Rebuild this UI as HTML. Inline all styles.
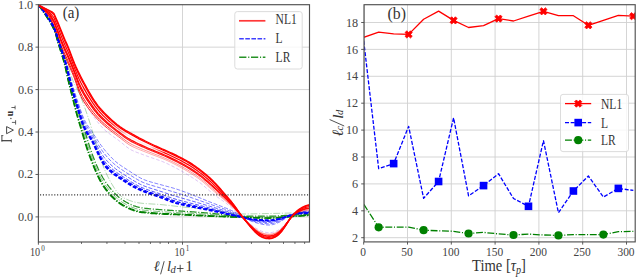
<!DOCTYPE html>
<html><head><meta charset="utf-8"><style>
html,body{margin:0;padding:0;background:#fff;width:637px;height:277px;overflow:hidden;position:relative;font-family:"Liberation Serif",serif}
</style></head><body>
<svg xmlns="http://www.w3.org/2000/svg" width="637" height="277" viewBox="0 0 637 277" style="position:absolute;left:0;top:0">
<defs><clipPath id="cl"><rect x="38" y="4.7" width="271.5" height="237.3"/></clipPath>
<clipPath id="cr"><rect x="364.1" y="4.7" width="271.1" height="237.2"/></clipPath>
<linearGradient id="rf1" gradientUnits="userSpaceOnUse" x1="100" y1="0" x2="135" y2="0"><stop offset="0" stop-color="#ff0000" stop-opacity="0.95"/><stop offset="1" stop-color="#ff0000" stop-opacity="0.35"/></linearGradient>
<linearGradient id="rf2" gradientUnits="userSpaceOnUse" x1="100" y1="0" x2="135" y2="0"><stop offset="0" stop-color="#ff0000" stop-opacity="1"/><stop offset="1" stop-color="#ff0000" stop-opacity="0.45"/></linearGradient>
<linearGradient id="rg1" gradientUnits="userSpaceOnUse" x1="92" y1="0" x2="122" y2="0"><stop offset="0" stop-color="#ff0000" stop-opacity="1"/><stop offset="1" stop-color="#ff0000" stop-opacity="0.9"/></linearGradient>
<linearGradient id="rg2" gradientUnits="userSpaceOnUse" x1="92" y1="0" x2="122" y2="0"><stop offset="0" stop-color="#ff0000" stop-opacity="1"/><stop offset="1" stop-color="#ff0000" stop-opacity="0.95"/></linearGradient>
<linearGradient id="rmid" gradientUnits="userSpaceOnUse" x1="38" y1="0" x2="310" y2="0"><stop offset="0.26" stop-color="#ff0000" stop-opacity="1"/><stop offset="0.33" stop-color="#ff0000" stop-opacity="0.1"/><stop offset="0.41" stop-color="#ff0000" stop-opacity="0.1"/><stop offset="0.47" stop-color="#ff0000" stop-opacity="1"/></linearGradient>
</defs>
<rect width="637" height="277" fill="#fff"/>
<line x1="38" x2="309.5" y1="216.9" y2="216.9" stroke="#d0d0d0" stroke-width="0.9"/>
<line x1="38" x2="309.5" y1="174.46" y2="174.46" stroke="#d0d0d0" stroke-width="0.9"/>
<line x1="38" x2="309.5" y1="132.02" y2="132.02" stroke="#d0d0d0" stroke-width="0.9"/>
<line x1="38" x2="309.5" y1="89.58" y2="89.58" stroke="#d0d0d0" stroke-width="0.9"/>
<line x1="38" x2="309.5" y1="47.14" y2="47.14" stroke="#d0d0d0" stroke-width="0.9"/>
<line x1="182.5" x2="182.5" y1="4.7" y2="242" stroke="#d0d0d0" stroke-width="0.9"/>
<line x1="364.1" x2="635.2" y1="237.7" y2="237.7" stroke="#d0d0d0" stroke-width="0.9"/>
<line x1="364.1" x2="635.2" y1="210.8" y2="210.8" stroke="#d0d0d0" stroke-width="0.9"/>
<line x1="364.1" x2="635.2" y1="183.9" y2="183.9" stroke="#d0d0d0" stroke-width="0.9"/>
<line x1="364.1" x2="635.2" y1="157" y2="157" stroke="#d0d0d0" stroke-width="0.9"/>
<line x1="364.1" x2="635.2" y1="130.1" y2="130.1" stroke="#d0d0d0" stroke-width="0.9"/>
<line x1="364.1" x2="635.2" y1="103.2" y2="103.2" stroke="#d0d0d0" stroke-width="0.9"/>
<line x1="364.1" x2="635.2" y1="76.3" y2="76.3" stroke="#d0d0d0" stroke-width="0.9"/>
<line x1="364.1" x2="635.2" y1="49.4" y2="49.4" stroke="#d0d0d0" stroke-width="0.9"/>
<line x1="364.1" x2="635.2" y1="22.5" y2="22.5" stroke="#d0d0d0" stroke-width="0.9"/>
<line x1="363.7" x2="363.7" y1="4.7" y2="241.9" stroke="#d0d0d0" stroke-width="0.9"/>
<line x1="407.5" x2="407.5" y1="4.7" y2="241.9" stroke="#d0d0d0" stroke-width="0.9"/>
<line x1="451.3" x2="451.3" y1="4.7" y2="241.9" stroke="#d0d0d0" stroke-width="0.9"/>
<line x1="495.1" x2="495.1" y1="4.7" y2="241.9" stroke="#d0d0d0" stroke-width="0.9"/>
<line x1="538.9" x2="538.9" y1="4.7" y2="241.9" stroke="#d0d0d0" stroke-width="0.9"/>
<line x1="582.7" x2="582.7" y1="4.7" y2="241.9" stroke="#d0d0d0" stroke-width="0.9"/>
<line x1="626.5" x2="626.5" y1="4.7" y2="241.9" stroke="#d0d0d0" stroke-width="0.9"/>
<g clip-path="url(#cl)" fill="none" stroke-linejoin="round">
<path d="M38 4.7L40 6.59L42 8.56L44 10.6L46 12.66L48 14.87L50 17.84L52 22.46L54 27.29L56 32.79L58 38.28L60 44.36L60.5 45.83L62.07 49.81L63.64 53.41L65.21 56.79L66.78 60.1L68.35 63.53L69.92 67.1L71.48 70.7L73.05 74.41L74.62 78.38L76.19 82.83L77.76 87.57L79.33 91.98L80.9 95.67L82.47 98.72L84.04 101.37L85.61 103.99L87.18 106.77L88.75 109.4L90.31 111.89L91.88 114.25L93.45 116.5L95.02 118.64L96.59 120.69L98.16 122.67L99.73 124.56L101.3 126.36L102.87 128.08L104.44 129.73L106.01 131.11L107.58 132.33L109.14 133.53L110.71 134.7L112.28 135.85L113.85 136.97L115.42 138.08L116.99 139.2L118.56 140.35L120.13 141.55L121.7 142.81L123.27 144.11L124.84 145.43L126.41 146.7L127.97 147.89L129.54 148.94L131.11 149.86L132.68 150.65L134.25 151.34L135.82 151.97L137.39 152.57L138.96 153.15L140.53 153.73L142.1 154.31L143.67 154.89L145.24 155.46L146.81 156.02L148.37 156.59L149.94 157.14L151.51 157.7L153.08 158.24L154.65 158.79L156.22 159.33L157.79 159.87L159.36 160.43L160.93 161.01L162.5 161.62L164.07 162.26L165.64 162.94L167.2 163.64L168.77 164.38L170.34 165.14L171.91 165.92L173.48 166.72L175.05 167.54L176.62 168.38L178.19 169.23L179.76 170.1L181.33 170.98L182.9 171.87L184.47 172.79L186.03 173.73L187.6 174.68L189.17 175.66L190.74 176.64L192.31 177.64L193.88 178.65L195.45 179.67L197.02 180.71L198.59 181.8L200.16 182.94L201.73 184.16L203.3 185.45L204.86 186.8L206.43 188.16L208 189.52L209.57 190.86L211.14 192.17L212.71 193.45L214.28 194.69L215.85 195.9L217.42 197.06L218.99 198.19L220.56 199.29L222.13 200.37L223.69 201.48L225.26 202.62L226.83 203.82L228.4 205.09L229.97 206.4L231.54 207.74L233.11 209.06L234.68 210.38L236.25 211.67L237.82 212.97L239.39 214.3L240.96 215.69L242.53 217.15L244.09 218.65L245.66 220.12L247.23 221.52L248.8 222.85L250.37 224.11L251.94 225.33L253.51 226.5L255.08 227.61L256.65 228.65L258.22 229.59L259.79 230.41L261.36 231.11L262.92 231.67L264.49 232.1L266.06 232.41L267.63 232.61L269.2 232.68L270.77 232.61L272.34 232.39L273.91 232.03L275.48 231.51L277.05 230.82L278.62 229.91L280.19 228.8L281.75 227.5L283.32 226L284.89 224.32L286.46 222.51L288.03 220.69L289.6 219.01L291.17 217.57L292.74 216.39L294.31 215.45L295.88 214.68L297.45 214.08L299.02 213.62L300.58 213.29L302.15 213.06L303.72 212.89L305.29 212.77L306.86 212.7L308.43 212.66L310 212.65" stroke="#b070e0" stroke-opacity="0.5" stroke-width="0.8" stroke-dasharray="3.5 2"/>
<path d="M38 4.7L40 6.62L42 8.62L44 10.69L46 12.77L48 15.02L50 18.05L52 22.78L54 27.71L56 33.24L58 38.76L60 44.87L60.5 46.34L62.07 50.33L63.64 53.92L65.21 57.28L66.78 60.6L68.35 64.02L69.92 67.58L71.48 71.16L73.05 74.85L74.62 78.83L76.19 83.3L77.76 88.09L79.33 92.53L80.9 96.24L82.47 99.29L84.04 101.93L85.61 104.34L87.18 106.61L88.75 108.77L90.31 110.82L91.88 112.77L93.45 114.65L95.02 116.46L96.59 118.19L98.16 119.84L99.73 121.43L101.3 122.93L102.87 124.37L104.44 125.75L106.01 127.08L107.58 128.37L109.14 129.64L110.71 130.88L112.28 132.09L113.85 133.28L115.42 134.45L116.99 135.61L118.56 136.78L120.13 137.97L121.7 139.19L123.27 140.42L124.84 141.64L126.41 142.83L127.97 143.94L129.54 144.95L131.11 145.85L132.68 146.66L134.25 147.4L135.82 148.09L137.39 148.76L138.96 149.41L140.53 150.05L142.1 150.69L143.67 151.32L145.24 151.94L146.81 152.56L148.37 153.17L149.94 153.78L151.51 154.38L153.08 154.97L154.65 155.55L156.22 156.14L157.79 156.72L159.36 157.32L160.93 157.93L162.5 158.56L164.07 159.21L165.64 159.89L167.2 160.59L168.77 161.32L170.34 162.06L171.91 162.83L173.48 163.61L175.05 164.42L176.62 165.24L178.19 166.07L179.76 166.92L181.33 167.78L182.9 168.66L184.47 169.56L186.03 170.48L187.6 171.42L189.17 172.38L190.74 173.36L192.31 174.36L193.88 175.38L195.45 176.42L197.02 177.48L198.59 178.59L200.16 179.74L201.73 180.96L203.3 182.24L204.86 183.57L206.43 184.92L208 186.28L209.57 187.64L211.14 188.99L212.71 190.32L214.28 191.65L215.85 192.95L217.42 194.24L218.99 195.52L220.56 196.78L222.13 198.05L223.69 199.34L225.26 200.65L226.83 201.99L228.4 203.38L229.97 204.82L231.54 206.29L233.11 207.79L234.68 209.3L236.25 210.82L237.82 212.35L239.39 213.9L240.96 215.49L242.53 217.11L244.09 218.73L245.66 220.33L247.23 221.86L248.8 223.33L250.37 224.74L251.94 226.11L253.51 227.43L255.08 228.68L256.65 229.83L258.22 230.87L259.79 231.77L261.36 232.53L262.92 233.13L264.49 233.58L266.06 233.9L267.63 234.09L269.2 234.15L270.77 234.06L272.34 233.82L273.91 233.41L275.48 232.83L277.05 232.06L278.62 231.07L280.19 229.85L281.75 228.42L283.32 226.78L284.89 224.96L286.46 222.99L288.03 221.01L289.6 219.14L291.17 217.51L292.74 216.13L294.31 214.98L295.88 214.02L297.45 213.23L299.02 212.59L300.58 212.08L302.15 211.68L303.72 211.36L305.29 211.1L306.86 210.91L308.43 210.79L310 210.72" stroke="url(#rf1)" stroke-width="0.95"/>
<path d="M38 4.7L40 6.48L42 8.34L44 10.25L46 12.19L48 14.25L50 16.99L52 21.19L54 25.63L56 31.01L58 36.39L60 42.33L60.5 43.77L62.07 47.75L63.64 51.38L65.21 54.8L66.78 58.13L68.35 61.57L69.92 65.19L71.48 68.86L73.05 72.63L74.62 76.6L76.19 80.95L77.76 85.52L79.33 89.78L80.9 93.39L82.47 96.44L84.04 99.12L85.61 101.61L87.18 103.96L88.75 106.21L90.31 108.36L91.88 110.41L93.45 112.38L95.02 114.28L96.59 116.08L98.16 117.8L99.73 119.43L101.3 120.98L102.87 122.46L104.44 123.88L106.01 125.24L107.58 126.57L109.14 127.87L110.71 129.14L112.28 130.38L113.85 131.6L115.42 132.79L116.99 133.97L118.56 135.15L120.13 136.34L121.7 137.54L123.27 138.74L124.84 139.92L126.41 141.07L127.97 142.14L129.54 143.13L131.11 144.03L132.68 144.85L134.25 145.61L135.82 146.33L137.39 147.02L138.96 147.7L140.53 148.38L142.1 149.04L143.67 149.7L145.24 150.34L146.81 150.98L148.37 151.62L149.94 152.24L151.51 152.87L153.08 153.48L154.65 154.08L156.22 154.69L157.79 155.29L159.36 155.9L160.93 156.53L162.5 157.16L164.07 157.82L165.64 158.5L167.2 159.2L168.77 159.92L170.34 160.67L171.91 161.43L173.48 162.2L175.05 163L176.62 163.81L178.19 164.63L179.76 165.47L181.33 166.33L182.9 167.2L184.47 168.09L186.03 169L187.6 169.93L189.17 170.89L190.74 171.87L192.31 172.87L193.88 173.9L195.45 174.94L197.02 176.02L198.59 177.13L200.16 178.29L201.73 179.5L203.3 180.78L204.86 182.1L206.43 183.45L208 184.81L209.57 186.17L211.14 187.54L212.71 188.9L214.28 190.26L215.85 191.61L217.42 192.96L218.99 194.3L220.56 195.65L222.13 197L223.69 198.36L225.26 199.75L226.83 201.16L228.4 202.61L229.97 204.1L231.54 205.63L233.11 207.21L234.68 208.81L236.25 210.44L237.82 212.07L239.39 213.72L240.96 215.4L242.53 217.09L244.09 218.77L245.66 220.43L247.23 222.02L248.8 223.55L250.37 225.03L251.94 226.46L253.51 227.85L255.08 229.16L256.65 230.37L258.22 231.45L259.79 232.39L261.36 233.18L262.92 233.79L264.49 234.25L266.06 234.57L267.63 234.77L269.2 234.82L270.77 234.73L272.34 234.46L273.91 234.04L275.48 233.43L277.05 232.63L278.62 231.59L280.19 230.32L281.75 228.83L283.32 227.14L284.89 225.25L286.46 223.21L288.03 221.15L289.6 219.2L291.17 217.48L292.74 216.01L294.31 214.77L295.88 213.72L297.45 212.84L299.02 212.12L300.58 211.53L302.15 211.06L303.72 210.66L305.29 210.35L306.86 210.1L308.43 209.94L310 209.84" stroke="url(#rf2)" stroke-width="0.95"/>
<path d="M38 4.7L40 6.74L42 9.02L44 11.53L46 14.22L48 17.07L50 20.02L52 23.19L54 26.81L56 31.25L58 37.46L60 43.6L60.5 45.07L62.07 49.68L63.64 54.33L65.21 59.15L66.78 64.27L68.35 69.94L69.92 75.93L71.48 81.65L73.05 87.03L74.62 92.14L76.19 96.97L77.76 101.58L79.33 106.2L80.9 110.88L82.47 115.31L84.04 119.09L85.61 122.17L87.18 124.76L88.75 127.12L90.31 129.38L91.88 131.66L93.45 134L95.02 136.38L96.59 138.75L98.16 141.1L99.73 143.39L101.3 145.59L102.87 147.69L104.44 149.69L106.01 151.59L107.58 153.41L109.14 155.16L110.71 156.83L112.28 158.43L113.85 159.94L115.42 161.36L116.99 162.68L118.56 163.9L120.13 165.06L121.7 166.15L123.27 167.21L124.84 168.23L126.41 169.23L127.97 170.23L129.54 171.23L131.11 172.24L132.68 173.26L134.25 174.28L135.82 175.28L137.39 176.25L138.96 177.18L140.53 178.03L142.1 178.81L143.67 179.51L145.24 180.14L146.81 180.7L148.37 181.22L149.94 181.71L151.51 182.17L153.08 182.61L154.65 183.04L156.22 183.47L157.79 183.89L159.36 184.32L160.93 184.75L162.5 185.18L164.07 185.6L165.64 186.02L167.2 186.43L168.77 186.85L170.34 187.27L171.91 187.71L173.48 188.17L175.05 188.64L176.62 189.14L178.19 189.65L179.76 190.18L181.33 190.72L182.9 191.28L184.47 191.85L186.03 192.43L187.6 193.02L189.17 193.62L190.74 194.23L192.31 194.84L193.88 195.46L195.45 196.09L197.02 196.72L198.59 197.36L200.16 198L201.73 198.64L203.3 199.28L204.86 199.92L206.43 200.55L208 201.19L209.57 201.82L211.14 202.44L212.71 203.05L214.28 203.65L215.85 204.24L217.42 204.83L218.99 205.42L220.56 206.01L222.13 206.6L223.69 207.21L225.26 207.83L226.83 208.46L228.4 209.12L229.97 209.79L231.54 210.5L233.11 211.24L234.68 212.02L236.25 212.85L237.82 213.74L239.39 214.71L240.96 215.71L242.53 216.7L244.09 217.63L245.66 218.51L247.23 219.32L248.8 220.08L250.37 220.78L251.94 221.41L253.51 221.97L255.08 222.46L256.65 222.92L258.22 223.34L259.79 223.73L261.36 224.09L262.92 224.41L264.49 224.68L266.06 224.89L267.63 225.01L269.2 225.03L270.77 224.92L272.34 224.67L273.91 224.28L275.48 223.78L277.05 223.19L278.62 222.51L280.19 221.73L281.75 220.83L283.32 219.81L284.89 218.71L286.46 217.61L288.03 216.59L289.6 215.69L291.17 214.91L292.74 214.23L294.31 213.63L295.88 213.11L297.45 212.65L299.02 212.28L300.58 211.96L302.15 211.7L303.72 211.49L305.29 211.31L306.86 211.17L308.43 211.08L310 211.03" stroke="#0000ff" stroke-opacity="0.55" stroke-width="0.9" stroke-dasharray="4 1.7"/>
<path d="M38 4.7L40 6.74L42 9.05L44 11.58L46 14.3L48 17.18L50 20.18L52 23.4L54 27.1L56 31.69L58 38.1L60 44.24L60.5 45.72L62.07 50.32L63.64 55L65.21 59.91L66.78 65.24L68.35 71.21L69.92 77.35L71.48 83.15L73.05 88.6L74.62 93.77L76.19 98.68L77.76 103.45L79.33 108.23L80.9 113L82.47 117.48L84.04 121.32L85.61 124.45L87.18 127.05L88.75 129.41L90.31 131.69L91.88 134.06L93.45 136.58L95.02 139.2L96.59 141.85L98.16 144.47L99.73 147.01L101.3 149.41L102.87 151.67L104.44 153.75L106.01 155.67L107.58 157.45L109.14 159.12L110.71 160.71L112.28 162.23L113.85 163.67L115.42 165.02L116.99 166.27L118.56 167.44L120.13 168.54L121.7 169.61L123.27 170.65L124.84 171.68L126.41 172.69L127.97 173.69L129.54 174.69L131.11 175.68L132.68 176.67L134.25 177.65L135.82 178.6L137.39 179.53L138.96 180.4L140.53 181.22L142.1 181.97L143.67 182.65L145.24 183.27L146.81 183.83L148.37 184.36L149.94 184.86L151.51 185.34L153.08 185.81L154.65 186.26L156.22 186.72L157.79 187.18L159.36 187.64L160.93 188.11L162.5 188.58L164.07 189.05L165.64 189.52L167.2 189.99L168.77 190.46L170.34 190.93L171.91 191.4L173.48 191.87L175.05 192.35L176.62 192.83L178.19 193.32L179.76 193.81L181.33 194.31L182.9 194.82L184.47 195.33L186.03 195.85L187.6 196.37L189.17 196.9L190.74 197.43L192.31 197.97L193.88 198.51L195.45 199.05L197.02 199.6L198.59 200.15L200.16 200.7L201.73 201.25L203.3 201.8L204.86 202.36L206.43 202.91L208 203.46L209.57 204.01L211.14 204.56L212.71 205.1L214.28 205.63L215.85 206.16L217.42 206.69L218.99 207.21L220.56 207.74L222.13 208.27L223.69 208.81L225.26 209.35L226.83 209.91L228.4 210.49L229.97 211.08L231.54 211.69L233.11 212.32L234.68 212.98L236.25 213.68L237.82 214.42L239.39 215.22L240.96 216.04L242.53 216.85L244.09 217.63L245.66 218.36L247.23 219.06L248.8 219.7L250.37 220.3L251.94 220.83L253.51 221.3L255.08 221.71L256.65 222.08L258.22 222.42L259.79 222.73L261.36 223.02L262.92 223.27L264.49 223.49L266.06 223.65L267.63 223.75L269.2 223.76L270.77 223.66L272.34 223.44L273.91 223.11L275.48 222.67L277.05 222.15L278.62 221.56L280.19 220.89L281.75 220.11L283.32 219.23L284.89 218.28L286.46 217.33L288.03 216.44L289.6 215.66L291.17 214.97L292.74 214.36L294.31 213.83L295.88 213.36L297.45 212.95L299.02 212.62L300.58 212.35L302.15 212.13L303.72 211.95L305.29 211.8L306.86 211.69L308.43 211.62L310 211.58" stroke="#0000ff" stroke-opacity="0.6" stroke-width="0.9" stroke-dasharray="4 1.7"/>
<path d="M38 4.7L40 6.75L42 9.07L44 11.62L46 14.38L48 17.3L50 20.34L52 23.61L54 27.39L56 32.14L58 38.73L60 44.88L60.5 46.36L62.07 50.97L63.64 55.67L65.21 60.67L66.78 66.21L68.35 72.48L69.92 78.76L71.48 84.64L73.05 90.18L74.62 95.4L76.19 100.39L77.76 105.31L79.33 110.25L80.9 115.12L82.47 119.65L84.04 123.54L85.61 126.72L87.18 129.34L88.75 131.7L90.31 134L91.88 136.46L93.45 139.15L95.02 142.02L96.59 144.95L98.16 147.85L99.73 150.63L101.3 153.24L102.87 155.65L104.44 157.82L106.01 159.74L107.58 161.48L109.14 163.08L110.71 164.59L112.28 166.03L113.85 167.39L115.42 168.67L116.99 169.86L118.56 170.97L120.13 172.03L121.7 173.07L123.27 174.1L124.84 175.13L126.41 176.15L127.97 177.16L129.54 178.15L131.11 179.12L132.68 180.08L134.25 181.02L135.82 181.93L137.39 182.8L138.96 183.63L140.53 184.41L142.1 185.12L143.67 185.78L145.24 186.39L146.81 186.96L148.37 187.5L149.94 188.02L151.51 188.52L153.08 189L154.65 189.49L156.22 189.97L157.79 190.46L159.36 190.96L160.93 191.47L162.5 191.99L164.07 192.51L165.64 193.03L167.2 193.56L168.77 194.08L170.34 194.59L171.91 195.09L173.48 195.58L175.05 196.05L176.62 196.52L178.19 196.98L179.76 197.44L181.33 197.9L182.9 198.36L184.47 198.82L186.03 199.27L187.6 199.73L189.17 200.18L190.74 200.64L192.31 201.1L193.88 201.55L195.45 202.01L197.02 202.47L198.59 202.93L200.16 203.4L201.73 203.86L203.3 204.33L204.86 204.79L206.43 205.26L208 205.74L209.57 206.21L211.14 206.68L212.71 207.15L214.28 207.62L215.85 208.08L217.42 208.55L218.99 209.01L220.56 209.47L222.13 209.94L223.69 210.41L225.26 210.88L226.83 211.37L228.4 211.86L229.97 212.36L231.54 212.87L233.11 213.4L234.68 213.94L236.25 214.51L237.82 215.1L239.39 215.73L240.96 216.37L242.53 217.01L244.09 217.63L245.66 218.22L247.23 218.79L248.8 219.32L250.37 219.81L251.94 220.25L253.51 220.63L255.08 220.96L256.65 221.24L258.22 221.5L259.79 221.73L261.36 221.95L262.92 222.14L264.49 222.3L266.06 222.42L267.63 222.48L269.2 222.48L270.77 222.4L272.34 222.21L273.91 221.93L275.48 221.56L277.05 221.12L278.62 220.62L280.19 220.05L281.75 219.4L283.32 218.66L284.89 217.86L286.46 217.05L288.03 216.3L289.6 215.62L291.17 215.03L292.74 214.5L294.31 214.02L295.88 213.61L297.45 213.25L299.02 212.97L300.58 212.74L302.15 212.56L303.72 212.41L305.29 212.3L306.86 212.21L308.43 212.15L310 212.12" stroke="#0000ff" stroke-opacity="0.7" stroke-width="0.9" stroke-dasharray="4 1.7"/>
<path d="M38 4.7L40 6.75L42 9.08L44 11.66L46 14.44L48 17.39L50 20.46L52 23.77L54 27.63L56 32.49L58 39.24L60 45.4L60.5 46.88L62.07 51.48L63.64 56.21L65.21 61.27L66.78 66.98L68.35 73.49L69.92 79.89L71.48 85.84L73.05 91.44L74.62 96.71L76.19 101.76L77.76 106.8L79.33 111.87L80.9 116.82L82.47 121.39L84.04 125.33L85.61 128.54L87.18 131.17L88.75 133.54L90.31 135.85L91.88 138.38L93.45 141.21L95.02 144.27L96.59 147.43L98.16 150.54L99.73 153.52L101.3 156.31L102.87 158.83L104.44 161.07L106.01 163.01L107.58 164.71L109.14 166.25L110.71 167.7L112.28 169.07L113.85 170.37L115.42 171.59L116.99 172.73L118.56 173.8L120.13 174.83L121.7 175.84L123.27 176.86L124.84 177.89L126.41 178.91L127.97 179.93L129.54 180.91L131.11 181.87L132.68 182.81L134.25 183.71L135.82 184.58L137.39 185.42L138.96 186.21L140.53 186.95L142.1 187.65L143.67 188.29L145.24 188.9L146.81 189.47L148.37 190.01L149.94 190.54L151.51 191.05L153.08 191.56L154.65 192.06L156.22 192.57L157.79 193.08L159.36 193.61L160.93 194.15L162.5 194.71L164.07 195.27L165.64 195.84L167.2 196.41L168.77 196.97L170.34 197.51L171.91 198.04L173.48 198.54L175.05 199.02L176.62 199.48L178.19 199.92L179.76 200.35L181.33 200.77L182.9 201.19L184.47 201.6L186.03 202.01L187.6 202.41L189.17 202.81L190.74 203.21L192.31 203.6L193.88 203.99L195.45 204.38L197.02 204.77L198.59 205.16L200.16 205.55L201.73 205.95L203.3 206.35L204.86 206.75L206.43 207.15L208 207.56L209.57 207.97L211.14 208.38L212.71 208.79L214.28 209.21L215.85 209.62L217.42 210.03L218.99 210.44L220.56 210.86L222.13 211.27L223.69 211.69L225.26 212.11L226.83 212.53L228.4 212.95L229.97 213.39L231.54 213.82L233.11 214.26L234.68 214.71L236.25 215.17L237.82 215.65L239.39 216.14L240.96 216.63L242.53 217.13L244.09 217.63L245.66 218.11L247.23 218.58L248.8 219.02L250.37 219.43L251.94 219.79L253.51 220.1L255.08 220.36L256.65 220.57L258.22 220.77L259.79 220.94L261.36 221.09L262.92 221.23L264.49 221.34L266.06 221.43L267.63 221.47L269.2 221.47L270.77 221.39L272.34 221.23L273.91 220.98L275.48 220.67L277.05 220.3L278.62 219.87L280.19 219.39L281.75 218.83L283.32 218.2L284.89 217.52L286.46 216.83L288.03 216.18L289.6 215.6L291.17 215.07L292.74 214.6L294.31 214.18L295.88 213.81L297.45 213.49L299.02 213.24L300.58 213.05L302.15 212.9L303.72 212.79L305.29 212.69L306.86 212.63L308.43 212.58L310 212.56" stroke="#0000ff" stroke-opacity="0.8" stroke-width="0.9" stroke-dasharray="4 1.7"/>
<path d="M38 4.7L40 6.73L42 9L44 11.5L46 14.17L48 17L50 19.93L52 23.12L54 26.85L56 31.7L58 38L60 43.61L60.5 44.98L62.07 49.21L63.64 53.44L65.21 57.76L66.78 62.31L68.35 67.17L69.92 72.06L71.48 76.66L73.05 80.71L74.62 84.21L76.19 87.4L77.76 90.53L79.33 93.85L80.9 97.47L82.47 101.39L84.04 105.58L85.61 109.98L87.18 114.57L88.75 119.31L90.31 124.22L91.88 129.35L93.45 134.72L95.02 140.3L96.59 145.93L98.16 151.39L99.73 156.47L101.3 161.11L102.87 165.34L104.44 169.22L106.01 172.81L107.58 176.13L109.14 179.2L110.71 182.07L112.28 184.78L113.85 187.33L115.42 189.71L116.99 191.87L118.56 193.74L120.13 195.31L121.7 196.57L123.27 197.59L124.84 198.45L126.41 199.2L127.97 199.88L129.54 200.49L131.11 201.04L132.68 201.53L134.25 201.96L135.82 202.33L137.39 202.64L138.96 202.9L140.53 203.11L142.1 203.29L143.67 203.44L145.24 203.57L146.81 203.68L148.37 203.78L149.94 203.87L151.51 203.96L153.08 204.05L154.65 204.14L156.22 204.24L157.79 204.35L159.36 204.47L160.93 204.6L162.5 204.74L164.07 204.9L165.64 205.07L167.2 205.24L168.77 205.42L170.34 205.6L171.91 205.79L173.48 205.97L175.05 206.15L176.62 206.33L178.19 206.5L179.76 206.67L181.33 206.82L182.9 206.98L184.47 207.13L186.03 207.27L187.6 207.41L189.17 207.55L190.74 207.68L192.31 207.82L193.88 207.95L195.45 208.09L197.02 208.23L198.59 208.37L200.16 208.51L201.73 208.65L203.3 208.8L204.86 208.96L206.43 209.12L208 209.29L209.57 209.47L211.14 209.67L212.71 209.89L214.28 210.14L215.85 210.41L217.42 210.69L218.99 210.99L220.56 211.29L222.13 211.61L223.69 211.92L225.26 212.22L226.83 212.51L228.4 212.79L229.97 213.05L231.54 213.29L233.11 213.49L234.68 213.67L236.25 213.8L237.82 213.89L239.39 213.95L240.96 213.98L242.53 213.98L244.09 213.98L245.66 213.97L247.23 213.95L248.8 213.93L250.37 213.91L251.94 213.88L253.51 213.85L255.08 213.82L256.65 213.79L258.22 213.76L259.79 213.72L261.36 213.69L262.92 213.65L264.49 213.62L266.06 213.58L267.63 213.55L269.2 213.52L270.77 213.48L272.34 213.45L273.91 213.42L275.48 213.39L277.05 213.35L278.62 213.32L280.19 213.28L281.75 213.24L283.32 213.21L284.89 213.17L286.46 213.13L288.03 213.09L289.6 213.05L291.17 213.01L292.74 212.97L294.31 212.93L295.88 212.89L297.45 212.85L299.02 212.8L300.58 212.76L302.15 212.72L303.72 212.67L305.29 212.63L306.86 212.58L308.43 212.55L310 212.52" stroke="#008000" stroke-opacity="0.35" stroke-width="0.9" stroke-dasharray="6.9 1.7 1.1 1.7"/>
<path d="M38 4.7L40 6.95L42 9.43L44 12.12L46 14.99L48 18L50 21.04L52 24.3L54 28.19L56 33.58L58 40.66L60 47.08L60.5 48.66L62.07 53.65L63.64 58.79L65.21 64.27L66.78 70.26L68.35 76.39L69.92 82.38L71.48 88.26L73.05 93.92L74.62 99.34L76.19 104.47L77.76 109.31L79.33 114.01L80.9 118.68L82.47 123.48L84.04 128.5L85.61 133.69L87.18 138.87L88.75 143.91L90.31 148.68L91.88 153.18L93.45 157.44L95.02 161.49L96.59 165.3L98.16 168.84L99.73 172.09L101.3 175.05L102.87 177.77L104.44 180.27L106.01 182.6L107.58 184.78L109.14 186.82L110.71 188.75L112.28 190.59L113.85 192.34L115.42 193.99L116.99 195.54L118.56 196.95L120.13 198.22L121.7 199.36L123.27 200.39L124.84 201.35L126.41 202.26L127.97 203.11L129.54 203.91L131.11 204.65L132.68 205.33L134.25 205.94L135.82 206.47L137.39 206.93L138.96 207.31L140.53 207.62L142.1 207.88L143.67 208.11L145.24 208.3L146.81 208.48L148.37 208.64L149.94 208.79L151.51 208.93L153.08 209.06L154.65 209.18L156.22 209.3L157.79 209.43L159.36 209.55L160.93 209.67L162.5 209.79L164.07 209.91L165.64 210.02L167.2 210.13L168.77 210.24L170.34 210.35L171.91 210.45L173.48 210.56L175.05 210.66L176.62 210.77L178.19 210.88L179.76 210.98L181.33 211.09L182.9 211.2L184.47 211.31L186.03 211.42L187.6 211.53L189.17 211.64L190.74 211.75L192.31 211.86L193.88 211.97L195.45 212.08L197.02 212.2L198.59 212.31L200.16 212.43L201.73 212.54L203.3 212.66L204.86 212.79L206.43 212.91L208 213.04L209.57 213.18L211.14 213.32L212.71 213.48L214.28 213.65L215.85 213.83L217.42 214.02L218.99 214.23L220.56 214.43L222.13 214.64L223.69 214.84L225.26 215.04L226.83 215.23L228.4 215.42L229.97 215.59L231.54 215.74L233.11 215.87L234.68 215.98L236.25 216.07L237.82 216.13L239.39 216.17L240.96 216.19L242.53 216.2L244.09 216.2L245.66 216.2L247.23 216.2L248.8 216.2L250.37 216.2L251.94 216.2L253.51 216.2L255.08 216.2L256.65 216.2L258.22 216.2L259.79 216.2L261.36 216.2L262.92 216.2L264.49 216.2L266.06 216.2L267.63 216.2L269.2 216.19L270.77 216.17L272.34 216.15L273.91 216.1L275.48 216.05L277.05 215.98L278.62 215.89L280.19 215.81L281.75 215.71L283.32 215.61L284.89 215.51L286.46 215.42L288.03 215.32L289.6 215.23L291.17 215.14L292.74 215.05L294.31 214.96L295.88 214.86L297.45 214.77L299.02 214.68L300.58 214.58L302.15 214.48L303.72 214.38L305.29 214.28L306.86 214.19L308.43 214.11L310 214.05" stroke="#008000" stroke-opacity="0.85" stroke-width="1.3" stroke-dasharray="6.9 1.7 1.1 1.7"/>
<path d="M38 4.7L40 7.05L42 9.63L44 12.41L46 15.36L48 18.45L50 21.56L52 24.86L54 28.82L56 34.33L58 41.58L60 48.01L60.5 49.58L62.07 54.54L63.64 59.74L65.21 65.45L66.78 72.05L68.35 78.64L69.92 84.76L71.48 90.75L73.05 96.71L74.62 102.53L76.19 108.08L77.76 113.31L79.33 118.27L80.9 123.17L82.47 128.19L84.04 133.39L85.61 138.6L87.18 143.64L88.75 148.44L90.31 152.96L91.88 157.24L93.45 161.35L95.02 165.29L96.59 169.02L98.16 172.5L99.73 175.69L101.3 178.59L102.87 181.24L104.44 183.68L106.01 185.94L107.58 188.04L109.14 190L110.71 191.85L112.28 193.59L113.85 195.25L115.42 196.8L116.99 198.25L118.56 199.58L120.13 200.77L121.7 201.85L123.27 202.83L124.84 203.73L126.41 204.59L127.97 205.4L129.54 206.16L131.11 206.86L132.68 207.51L134.25 208.09L135.82 208.6L137.39 209.03L138.96 209.39L140.53 209.69L142.1 209.94L143.67 210.16L145.24 210.35L146.81 210.52L148.37 210.68L149.94 210.82L151.51 210.96L153.08 211.08L154.65 211.2L156.22 211.31L157.79 211.42L159.36 211.53L160.93 211.64L162.5 211.74L164.07 211.84L165.64 211.93L167.2 212.02L168.77 212.11L170.34 212.19L171.91 212.27L173.48 212.36L175.05 212.44L176.62 212.52L178.19 212.61L179.76 212.7L181.33 212.79L182.9 212.88L184.47 212.97L186.03 213.07L187.6 213.16L189.17 213.25L190.74 213.35L192.31 213.44L193.88 213.54L195.45 213.63L197.02 213.73L198.59 213.83L200.16 213.92L201.73 214.02L203.3 214.12L204.86 214.22L206.43 214.32L208 214.42L209.57 214.53L211.14 214.64L212.71 214.75L214.28 214.87L215.85 215L217.42 215.14L218.99 215.27L220.56 215.41L222.13 215.55L223.69 215.69L225.26 215.83L226.83 215.96L228.4 216.08L229.97 216.2L231.54 216.31L233.11 216.41L234.68 216.5L236.25 216.57L237.82 216.62L239.39 216.67L240.96 216.7L242.53 216.73L244.09 216.76L245.66 216.79L247.23 216.82L248.8 216.85L250.37 216.87L251.94 216.9L253.51 216.93L255.08 216.96L256.65 216.98L258.22 217L259.79 217.03L261.36 217.05L262.92 217.06L264.49 217.08L266.06 217.08L267.63 217.09L269.2 217.08L270.77 217.07L272.34 217.03L273.91 216.98L275.48 216.92L277.05 216.83L278.62 216.74L280.19 216.63L281.75 216.52L283.32 216.4L284.89 216.29L286.46 216.17L288.03 216.06L289.6 215.95L291.17 215.85L292.74 215.75L294.31 215.64L295.88 215.54L297.45 215.43L299.02 215.33L300.58 215.22L302.15 215.11L303.72 215L305.29 214.89L306.86 214.79L308.43 214.7L310 214.64" stroke="#008000" stroke-opacity="0.5" stroke-width="1.0" stroke-dasharray="6.9 1.7 1.1 1.7"/>
<path d="M38 4.7L40 7.14L42 9.8L44 12.66L46 15.68L48 18.85L50 22.01L52 25.36L54 29.37L56 35.01L58 42.4L60 48.83L60.5 50.39L62.07 55.33L63.64 60.59L65.21 66.5L66.78 73.64L68.35 80.63L69.92 86.88L71.48 92.97L73.05 99.19L74.62 105.36L76.19 111.29L77.76 116.86L79.33 122.07L80.9 127.15L82.47 132.38L84.04 137.74L85.61 142.97L87.18 147.88L88.75 152.47L90.31 156.76L91.88 160.85L93.45 164.82L95.02 168.66L96.59 172.34L98.16 175.76L99.73 178.89L101.3 181.74L102.87 184.33L104.44 186.71L106.01 188.91L107.58 190.94L109.14 192.84L110.71 194.6L112.28 196.27L113.85 197.83L115.42 199.3L116.99 200.67L118.56 201.91L120.13 203.04L121.7 204.06L123.27 204.99L124.84 205.85L126.41 206.66L127.97 207.43L129.54 208.16L131.11 208.83L132.68 209.45L134.25 210L135.82 210.49L137.39 210.9L138.96 211.25L140.53 211.53L142.1 211.77L143.67 211.98L145.24 212.17L146.81 212.34L148.37 212.49L149.94 212.63L151.51 212.76L153.08 212.88L154.65 213L156.22 213.1L157.79 213.2L159.36 213.3L160.93 213.39L162.5 213.47L164.07 213.55L165.64 213.63L167.2 213.7L168.77 213.76L170.34 213.83L171.91 213.89L173.48 213.95L175.05 214.02L176.62 214.08L178.19 214.15L179.76 214.22L181.33 214.3L182.9 214.37L184.47 214.45L186.03 214.53L187.6 214.61L189.17 214.69L190.74 214.77L192.31 214.85L193.88 214.93L195.45 215.01L197.02 215.09L198.59 215.18L200.16 215.26L201.73 215.34L203.3 215.42L204.86 215.5L206.43 215.58L208 215.65L209.57 215.73L211.14 215.81L212.71 215.88L214.28 215.96L215.85 216.04L217.42 216.12L218.99 216.2L220.56 216.29L222.13 216.37L223.69 216.45L225.26 216.53L226.83 216.6L228.4 216.68L229.97 216.75L231.54 216.82L233.11 216.89L234.68 216.95L236.25 217.01L237.82 217.06L239.39 217.11L240.96 217.16L242.53 217.21L244.09 217.26L245.66 217.32L247.23 217.37L248.8 217.42L250.37 217.47L251.94 217.53L253.51 217.58L255.08 217.63L256.65 217.68L258.22 217.72L259.79 217.76L261.36 217.8L262.92 217.83L264.49 217.85L266.06 217.87L267.63 217.88L269.2 217.88L270.77 217.86L272.34 217.82L273.91 217.77L275.48 217.69L277.05 217.59L278.62 217.48L280.19 217.36L281.75 217.24L283.32 217.1L284.89 216.97L286.46 216.84L288.03 216.72L289.6 216.6L291.17 216.48L292.74 216.37L294.31 216.25L295.88 216.14L297.45 216.02L299.02 215.91L300.58 215.79L302.15 215.67L303.72 215.55L305.29 215.44L306.86 215.33L308.43 215.23L310 215.17" stroke="#008000" stroke-opacity="1" stroke-width="1.3" stroke-dasharray="6.9 1.7 1.1 1.7"/>
<path d="M38 4.7L40 7.17L42 9.87L44 12.75L46 15.81L48 19L50 22.19L52 25.55L54 29.58L56 35.26L58 42.71L60 49.14L60.5 50.69L62.07 55.63L63.64 60.9L65.21 66.9L66.78 74.24L68.35 81.38L69.92 87.67L71.48 93.81L73.05 100.12L74.62 106.42L76.19 112.5L77.76 118.19L79.33 123.49L80.9 128.65L82.47 133.96L84.04 139.37L85.61 144.6L87.18 149.47L88.75 153.99L90.31 158.18L91.88 162.2L93.45 166.12L95.02 169.93L96.59 173.58L98.16 176.98L99.73 180.09L101.3 182.92L102.87 185.49L104.44 187.84L106.01 190.02L107.58 192.03L109.14 193.9L110.71 195.64L112.28 197.27L113.85 198.8L115.42 200.24L116.99 201.57L118.56 202.79L120.13 203.89L121.7 204.89L123.27 205.8L124.84 206.64L126.41 207.44L127.97 208.19L129.54 208.91L131.11 209.57L132.68 210.17L134.25 210.72L135.82 211.19L137.39 211.6L138.96 211.94L140.53 212.22L142.1 212.46L143.67 212.67L145.24 212.85L146.81 213.02L148.37 213.17L149.94 213.31L151.51 213.44L153.08 213.56L154.65 213.67L156.22 213.77L157.79 213.87L159.36 213.96L160.93 214.04L162.5 214.12L164.07 214.19L165.64 214.26L167.2 214.32L168.77 214.38L170.34 214.44L171.91 214.5L173.48 214.55L175.05 214.61L176.62 214.67L178.19 214.73L179.76 214.79L181.33 214.86L182.9 214.93L184.47 215L186.03 215.07L187.6 215.15L189.17 215.22L190.74 215.3L192.31 215.38L193.88 215.45L195.45 215.53L197.02 215.6L198.59 215.68L200.16 215.76L201.73 215.83L203.3 215.9L204.86 215.98L206.43 216.05L208 216.11L209.57 216.18L211.14 216.25L212.71 216.31L214.28 216.37L215.85 216.43L217.42 216.49L218.99 216.55L220.56 216.61L222.13 216.67L223.69 216.73L225.26 216.79L226.83 216.84L228.4 216.9L229.97 216.96L231.54 217.01L233.11 217.07L234.68 217.12L236.25 217.17L237.82 217.23L239.39 217.28L240.96 217.34L242.53 217.39L244.09 217.45L245.66 217.51L247.23 217.57L248.8 217.64L250.37 217.7L251.94 217.76L253.51 217.82L255.08 217.88L256.65 217.94L258.22 217.99L259.79 218.04L261.36 218.08L262.92 218.12L264.49 218.15L266.06 218.17L267.63 218.18L269.2 218.18L270.77 218.16L272.34 218.12L273.91 218.06L275.48 217.98L277.05 217.88L278.62 217.76L280.19 217.64L281.75 217.51L283.32 217.37L284.89 217.23L286.46 217.09L288.03 216.96L289.6 216.84L291.17 216.72L292.74 216.6L294.31 216.48L295.88 216.36L297.45 216.25L299.02 216.13L300.58 216.01L302.15 215.88L303.72 215.76L305.29 215.64L306.86 215.53L308.43 215.43L310 215.36" stroke="#008000" stroke-opacity="1" stroke-width="1.4" stroke-dasharray="6.9 1.7 1.1 1.7"/>
<path d="M38 4.7L40 6.75L42 9.1L44 11.69L46 14.49L48 17.46L50 20.55L52 23.89L54 27.79L56 32.74L58 39.59L60 45.76L60.5 47.24L62.07 51.85L63.64 56.59L65.21 61.7L66.78 67.52L68.35 74.2L69.92 80.68L71.48 86.68L73.05 92.33L74.62 97.62L76.19 102.71L77.76 107.84L79.33 113.01L80.9 118.01L82.47 122.6L84.04 126.57L85.61 129.81L87.18 132.46L88.75 134.82L90.31 137.15L91.88 139.73L93.45 142.65L95.02 145.85L96.59 149.17L98.16 152.43L99.73 155.55L101.3 158.45L102.87 161.06L104.44 163.34L106.01 165.29L107.58 166.97L109.14 168.47L110.71 169.87L112.28 171.2L113.85 172.46L115.42 173.64L116.99 174.74L118.56 175.78L120.13 176.78L121.7 177.78L123.27 178.8L124.84 179.82L126.41 180.85L127.97 181.86L129.54 182.85L131.11 183.8L132.68 184.72L134.25 185.6L135.82 186.44L137.39 187.25L138.96 188.02L140.53 188.74L142.1 189.41L143.67 190.05L145.24 190.65L146.81 191.22L148.37 191.77L149.94 192.31L151.51 192.83L153.08 193.35L154.65 193.87L156.22 194.39L157.79 194.92L159.36 195.47L160.93 196.03L162.5 196.61L164.07 197.21L165.64 197.81L167.2 198.41L168.77 198.99L170.34 199.56L171.91 200.1L173.48 200.61L175.05 201.09L176.62 201.54L178.19 201.97L179.76 202.38L181.33 202.79L182.9 203.17L184.47 203.55L186.03 203.93L187.6 204.29L189.17 204.65L190.74 205L192.31 205.35L193.88 205.7L195.45 206.04L197.02 206.38L198.59 206.72L200.16 207.07L201.73 207.41L203.3 207.76L204.86 208.11L206.43 208.47L208 208.83L209.57 209.2L211.14 209.57L212.71 209.94L214.28 210.32L215.85 210.69L217.42 211.07L218.99 211.45L220.56 211.82L222.13 212.2L223.69 212.58L225.26 212.96L226.83 213.34L228.4 213.72L229.97 214.1L231.54 214.49L233.11 214.87L234.68 215.25L236.25 215.64L237.82 216.03L239.39 216.42L240.96 216.82L242.53 217.22L244.09 217.63L245.66 218.03L247.23 218.43L248.8 218.81L250.37 219.16L251.94 219.47L253.51 219.73L255.08 219.94L256.65 220.11L258.22 220.25L259.79 220.38L261.36 220.49L262.92 220.59L264.49 220.68L266.06 220.74L267.63 220.77L269.2 220.75L270.77 220.68L272.34 220.54L273.91 220.32L275.48 220.05L277.05 219.72L278.62 219.34L280.19 218.92L281.75 218.43L283.32 217.88L284.89 217.28L286.46 216.68L288.03 216.1L289.6 215.58L291.17 215.11L292.74 214.68L294.31 214.29L295.88 213.95L297.45 213.66L299.02 213.44L300.58 213.27L302.15 213.14L303.72 213.05L305.29 212.97L306.86 212.92L308.43 212.88L310 212.86" stroke="#0000ff" stroke-width="1.2" stroke-dasharray="4 1.7"/>
<path d="M38 4.7L40 6.76L42 9.1L44 11.71L46 14.52L48 17.51L50 20.62L52 23.98L54 27.92L56 32.93L58 39.87L60 46.04L60.5 47.52L62.07 52.13L63.64 56.88L65.21 62.03L66.78 67.95L68.35 74.76L69.92 81.31L71.48 87.34L73.05 93.02L74.62 98.34L76.19 103.46L77.76 108.66L79.33 113.9L80.9 118.94L82.47 123.56L84.04 127.55L85.61 130.81L87.18 133.46L88.75 135.83L90.31 138.17L91.88 140.78L93.45 143.79L95.02 147.1L96.59 150.53L98.16 153.92L99.73 157.14L101.3 160.13L102.87 162.82L104.44 165.13L106.01 167.08L107.58 168.74L109.14 170.21L110.71 171.58L112.28 172.87L113.85 174.1L115.42 175.25L116.99 176.32L118.56 177.33L120.13 178.31L121.7 179.3L123.27 180.31L124.84 181.34L126.41 182.37L127.97 183.39L129.54 184.37L131.11 185.32L132.68 186.22L134.25 187.08L135.82 187.91L137.39 188.69L138.96 189.44L140.53 190.14L142.1 190.8L143.67 191.43L145.24 192.03L146.81 192.6L148.37 193.15L149.94 193.69L151.51 194.23L153.08 194.75L154.65 195.28L156.22 195.82L157.79 196.37L159.36 196.93L160.93 197.51L162.5 198.11L164.07 198.73L165.64 199.35L167.2 199.97L168.77 200.58L170.34 201.17L171.91 201.73L173.48 202.24L175.05 202.72L176.62 203.17L178.19 203.59L179.76 203.98L181.33 204.36L182.9 204.73L184.47 205.09L186.03 205.43L187.6 205.77L189.17 206.09L190.74 206.41L192.31 206.73L193.88 207.04L195.45 207.34L197.02 207.65L198.59 207.95L200.16 208.25L201.73 208.56L203.3 208.87L204.86 209.18L206.43 209.5L208 209.83L209.57 210.16L211.14 210.5L212.71 210.84L214.28 211.19L215.85 211.54L217.42 211.89L218.99 212.24L220.56 212.59L222.13 212.94L223.69 213.29L225.26 213.63L226.83 213.98L228.4 214.33L229.97 214.67L231.54 215.01L233.11 215.34L234.68 215.67L236.25 216L237.82 216.33L239.39 216.65L240.96 216.96L242.53 217.29L244.09 217.62L245.66 217.97L247.23 218.31L248.8 218.64L250.37 218.95L251.94 219.22L253.51 219.43L255.08 219.6L256.65 219.74L258.22 219.85L259.79 219.94L261.36 220.02L262.92 220.09L264.49 220.15L266.06 220.19L267.63 220.21L269.2 220.19L270.77 220.13L272.34 220L273.91 219.81L275.48 219.56L277.05 219.26L278.62 218.93L280.19 218.55L281.75 218.11L283.32 217.62L284.89 217.09L286.46 216.55L288.03 216.04L289.6 215.56L291.17 215.13L292.74 214.74L294.31 214.38L295.88 214.06L297.45 213.8L299.02 213.59L300.58 213.44L302.15 213.33L303.72 213.25L305.29 213.19L306.86 213.14L308.43 213.12L310 213.1" stroke="#0000ff" stroke-width="2.0" stroke-dasharray="4 1.7"/>
<path d="M38 4.7L40 6.29L42 7.93L44 9.62L46 11.33L48 13.13L50 15.44L52 18.86L54 22.57L56 27.76L58 32.92L60 38.61L60.5 40L62.07 43.97L63.64 47.66L65.21 51.16L66.78 54.5L68.35 57.97L69.92 61.68L71.48 65.49L73.05 69.37L74.62 73.33L76.19 77.49L77.76 81.75L79.33 85.74L80.9 89.22L82.47 92.26L84.04 95.01L85.61 97.61L87.18 100.08L88.75 102.46L90.31 104.75L91.88 106.94L93.45 109.06L95.02 111.08L96.59 112.99L98.16 114.8L99.73 116.5L101.3 118.11L102.87 119.65L104.44 121.13L106.01 122.56L107.58 123.93L109.14 125.28L110.71 126.59L112.28 127.88L113.85 129.13L115.42 130.37L116.99 131.58L118.56 132.77L120.13 133.95L121.7 135.12L123.27 136.27L124.84 137.4L126.41 138.49L127.97 139.51L129.54 140.47L131.11 141.36L132.68 142.19L134.25 142.98L135.82 143.74L137.39 144.48L138.96 145.21L140.53 145.92L142.1 146.62L143.67 147.32L145.24 148L146.81 148.67L148.37 149.34L149.94 150L151.51 150.65L153.08 151.29L154.65 151.93L156.22 152.56L157.79 153.19L159.36 153.83L160.93 154.47L162.5 155.12L164.07 155.79L165.64 156.47L167.2 157.17L168.77 157.88L170.34 158.62L171.91 159.37L173.48 160.13L175.05 160.92L176.62 161.71L178.19 162.53L179.76 163.35L181.33 164.19L182.9 165.05L184.47 165.93L186.03 166.83L187.6 167.75L189.17 168.71L190.74 169.68L192.31 170.69L193.88 171.72L195.45 172.78L197.02 173.87L198.59 174.99L200.16 176.15L201.73 177.37L203.3 178.64L204.86 179.95L206.43 181.29L208 182.65L209.57 184.02L211.14 185.41L212.71 186.81L214.28 188.23L215.85 189.65L217.42 191.08L218.99 192.52L220.56 193.98L222.13 195.45L223.69 196.93L225.26 198.43L226.83 199.94L228.4 201.47L229.97 203.04L231.54 204.67L233.11 206.36L234.68 208.1L236.25 209.87L237.82 211.66L239.39 213.46L240.96 215.26L242.53 217.06L244.09 218.83L245.66 220.57L247.23 222.25L248.8 223.87L250.37 225.45L251.94 226.99L253.51 228.47L255.08 229.87L256.65 231.16L258.22 232.31L259.79 233.3L261.36 234.12L262.92 234.76L264.49 235.23L266.06 235.56L267.63 235.75L269.2 235.81L270.77 235.7L272.34 235.41L273.91 234.96L275.48 234.32L277.05 233.46L278.62 232.36L280.19 231.02L281.75 229.45L283.32 227.66L284.89 225.67L286.46 223.53L288.03 221.35L289.6 219.29L291.17 217.44L292.74 215.84L294.31 214.47L295.88 213.29L297.45 212.28L299.02 211.43L300.58 210.73L302.15 210.14L303.72 209.65L305.29 209.24L306.86 208.91L308.43 208.69L310 208.56" stroke="url(#rg1)" stroke-width="1.2"/>
<path d="M38 4.7L40 6.19L42 7.73L44 9.31L46 10.9L48 12.57L50 14.66L52 17.69L54 21.04L56 26.13L58 31.18L60 36.74L60.5 38.12L62.07 42.07L63.64 45.8L65.21 49.34L66.78 52.69L68.35 56.17L69.92 59.93L71.48 63.81L73.05 67.73L74.62 71.69L76.19 75.76L77.76 79.87L79.33 83.72L80.9 87.13L82.47 90.17L84.04 92.96L85.61 95.6L87.18 98.14L88.75 100.59L90.31 102.94L91.88 105.21L93.45 107.39L95.02 109.48L96.59 111.45L98.16 113.3L99.73 115.04L101.3 116.68L102.87 118.25L104.44 119.76L106.01 121.21L107.58 122.62L109.14 123.98L110.71 125.31L112.28 126.62L113.85 127.9L115.42 129.16L116.99 130.38L118.56 131.58L120.13 132.76L121.7 133.91L123.27 135.04L124.84 136.14L126.41 137.2L127.97 138.19L129.54 139.13L131.11 140.02L132.68 140.86L134.25 141.67L135.82 142.45L137.39 143.21L138.96 143.96L140.53 144.69L142.1 145.41L143.67 146.13L145.24 146.83L146.81 147.52L148.37 148.2L149.94 148.88L151.51 149.54L153.08 150.2L154.65 150.85L156.22 151.5L157.79 152.14L159.36 152.79L160.93 153.44L162.5 154.1L164.07 154.77L165.64 155.45L167.2 156.15L168.77 156.86L170.34 157.59L171.91 158.34L173.48 159.1L175.05 159.88L176.62 160.67L178.19 161.47L179.76 162.29L181.33 163.13L182.9 163.98L184.47 164.85L186.03 165.75L187.6 166.67L189.17 167.61L190.74 168.59L192.31 169.6L193.88 170.63L195.45 171.7L197.02 172.79L198.59 173.92L200.16 175.09L201.73 176.3L203.3 177.57L204.86 178.87L206.43 180.21L208 181.57L209.57 182.95L211.14 184.35L212.71 185.77L214.28 187.21L215.85 188.67L217.42 190.14L218.99 191.63L220.56 193.15L222.13 194.68L223.69 196.22L225.26 197.77L226.83 199.33L228.4 200.9L229.97 202.51L231.54 204.19L233.11 205.93L234.68 207.74L236.25 209.59L237.82 211.45L239.39 213.32L240.96 215.19L242.53 217.04L244.09 218.86L245.66 220.64L247.23 222.36L248.8 224.03L250.37 225.66L251.94 227.25L253.51 228.78L255.08 230.22L256.65 231.55L258.22 232.73L259.79 233.75L261.36 234.6L262.92 235.25L264.49 235.73L266.06 236.05L267.63 236.25L269.2 236.3L270.77 236.18L272.34 235.89L273.91 235.42L275.48 234.76L277.05 233.87L278.62 232.74L280.19 231.36L281.75 229.75L283.32 227.92L284.89 225.88L286.46 223.69L288.03 221.46L289.6 219.33L291.17 217.41L292.74 215.75L294.31 214.31L295.88 213.07L297.45 211.99L299.02 211.09L300.58 210.33L302.15 209.68L303.72 209.14L305.29 208.68L306.86 208.32L308.43 208.07L310 207.91" stroke="url(#rg2)" stroke-width="1.25"/>
<path d="M38 4.7L40 5.98L42 7.3L44 8.64L46 10L48 11.39L50 13.03L52 15.25L54 17.85L56 22.72L58 27.55L60 32.85L60.5 34.18L62.07 38.12L63.64 41.92L65.21 45.53L66.78 48.89L68.35 52.4L69.92 56.26L71.48 60.29L73.05 64.32L74.62 68.27L76.19 72.14L77.76 75.93L79.33 79.5L80.9 82.77L82.47 85.8L84.04 88.66L85.61 91.42L87.18 94.08L88.75 96.67L90.31 99.17L91.88 101.59L93.45 103.92L95.02 106.14L96.59 108.22L98.16 110.16L99.73 111.97L101.3 113.68L102.87 115.32L104.44 116.89L106.01 118.4L107.58 119.86L109.14 121.27L110.71 122.65L112.28 124L113.85 125.33L115.42 126.62L116.99 127.88L118.56 129.09L120.13 130.26L121.7 131.38L123.27 132.47L124.84 133.5L126.41 134.5L127.97 135.44L129.54 136.35L131.11 137.23L132.68 138.08L134.25 138.92L135.82 139.74L137.39 140.55L138.96 141.35L140.53 142.12L142.1 142.89L143.67 143.64L145.24 144.37L146.81 145.1L148.37 145.82L149.94 146.53L151.51 147.23L153.08 147.92L154.65 148.6L156.22 149.28L157.79 149.95L159.36 150.62L160.93 151.29L162.5 151.97L164.07 152.64L165.64 153.33L167.2 154.02L168.77 154.73L170.34 155.45L171.91 156.19L173.48 156.94L175.05 157.7L176.62 158.48L178.19 159.27L179.76 160.08L181.33 160.9L182.9 161.74L184.47 162.6L186.03 163.48L187.6 164.39L189.17 165.33L190.74 166.3L192.31 167.31L193.88 168.36L195.45 169.43L197.02 170.54L198.59 171.68L200.16 172.86L201.73 174.07L203.3 175.33L204.86 176.62L206.43 177.95L208 179.31L209.57 180.7L211.14 182.13L212.71 183.59L214.28 185.09L215.85 186.62L217.42 188.18L218.99 189.77L220.56 191.4L222.13 193.06L223.69 194.73L225.26 196.39L226.83 198.05L228.4 199.72L229.97 201.41L231.54 203.18L233.11 205.04L234.68 206.99L236.25 208.99L237.82 211.02L239.39 213.05L240.96 215.05L242.53 217.01L244.09 218.92L245.66 220.79L247.23 222.6L248.8 224.37L250.37 226.1L251.94 227.79L253.51 229.43L255.08 230.97L256.65 232.37L258.22 233.63L259.79 234.7L261.36 235.59L262.92 236.26L264.49 236.76L266.06 237.09L267.63 237.28L269.2 237.32L270.77 237.19L272.34 236.88L273.91 236.38L275.48 235.68L277.05 234.74L278.62 233.55L280.19 232.09L281.75 230.4L283.32 228.47L284.89 226.33L286.46 224.03L288.03 221.67L289.6 219.42L291.17 217.37L292.74 215.57L294.31 213.99L295.88 212.61L297.45 211.4L299.02 210.37L300.58 209.48L302.15 208.73L303.72 208.07L305.29 207.52L306.86 207.08L308.43 206.76L310 206.57" stroke="url(#rmid)" stroke-width="1.2"/>
<path d="M38 4.7L40 5.79L42 6.89L44 8.01L46 9.14L48 10.27L50 11.48L52 12.91L54 14.79L56 19.47L58 24.08L60 29.12L60.5 30.41L62.07 34.33L63.64 38.2L65.21 41.89L66.78 45.27L68.35 48.8L69.92 52.75L71.48 56.92L73.05 61.06L74.62 65L76.19 68.68L77.76 72.16L79.33 75.46L80.9 78.6L82.47 81.62L84.04 84.55L85.61 87.41L87.18 90.2L88.75 92.92L90.31 95.56L91.88 98.12L93.45 100.59L95.02 102.94L96.59 105.14L98.16 107.16L99.73 109.04L101.3 110.82L102.87 112.52L104.44 114.15L106.01 115.72L107.58 117.22L109.14 118.67L110.71 120.1L112.28 121.5L113.85 122.87L115.42 124.2L116.99 125.48L118.56 126.71L120.13 127.87L121.7 128.97L123.27 130L124.84 130.98L126.41 131.91L127.97 132.81L129.54 133.68L131.11 134.55L132.68 135.42L134.25 136.29L135.82 137.16L137.39 138.01L138.96 138.85L140.53 139.67L142.1 140.47L143.67 141.26L145.24 142.03L146.81 142.79L148.37 143.54L149.94 144.28L151.51 145.01L153.08 145.73L154.65 146.45L156.22 147.15L157.79 147.85L159.36 148.55L160.93 149.24L162.5 149.92L164.07 150.61L165.64 151.29L167.2 151.99L168.77 152.69L170.34 153.4L171.91 154.13L173.48 154.87L175.05 155.62L176.62 156.38L178.19 157.16L179.76 157.96L181.33 158.77L182.9 159.6L184.47 160.44L186.03 161.31L187.6 162.21L189.17 163.14L190.74 164.12L192.31 165.13L193.88 166.18L195.45 167.27L197.02 168.39L198.59 169.54L200.16 170.72L201.73 171.94L203.3 173.19L204.86 174.47L206.43 175.79L208 177.15L209.57 178.56L211.14 180.01L212.71 181.51L214.28 183.05L215.85 184.65L217.42 186.3L218.99 187.99L220.56 189.73L222.13 191.51L223.69 193.3L225.26 195.08L226.83 196.83L228.4 198.58L229.97 200.36L231.54 202.21L233.11 204.19L234.68 206.27L236.25 208.43L237.82 210.61L239.39 212.78L240.96 214.91L242.53 216.98L244.09 218.98L245.66 220.93L247.23 222.83L248.8 224.69L250.37 226.52L251.94 228.32L253.51 230.05L255.08 231.68L256.65 233.16L258.22 234.48L259.79 235.61L261.36 236.53L262.92 237.24L264.49 237.74L266.06 238.08L267.63 238.27L269.2 238.31L270.77 238.17L272.34 237.83L273.91 237.3L275.48 236.56L277.05 235.57L278.62 234.32L280.19 232.79L281.75 231.01L283.32 228.99L284.89 226.76L286.46 224.35L288.03 221.88L289.6 219.5L291.17 217.33L292.74 215.39L294.31 213.68L295.88 212.17L297.45 210.84L299.02 209.68L300.58 208.68L302.15 207.81L303.72 207.05L305.29 206.41L306.86 205.89L308.43 205.51L310 205.28" stroke="#ff0000" stroke-width="1.25"/>
<path d="M38 4.7L40 5.7L42 6.71L44 7.72L46 8.75L48 9.76L50 10.77L52 11.85L54 13.4L56 17.99L58 22.5L60 27.43L60.5 28.69L62.07 32.61L63.64 36.51L65.21 40.23L66.78 43.62L68.35 47.17L69.92 51.16L71.48 55.38L73.05 59.58L74.62 63.51L76.19 67.11L77.76 70.45L79.33 73.63L80.9 76.7L82.47 79.72L84.04 82.68L85.61 85.59L87.18 88.44L88.75 91.22L90.31 93.92L91.88 96.55L93.45 99.08L95.02 101.49L96.59 103.73L98.16 105.8L99.73 107.71L101.3 109.52L102.87 111.24L104.44 112.9L106.01 114.49L107.58 116.02L109.14 117.5L110.71 118.94L112.28 120.36L113.85 121.75L115.42 123.1L116.99 124.39L118.56 125.62L120.13 126.78L121.7 127.87L123.27 128.88L124.84 129.84L126.41 130.74L127.97 131.61L129.54 132.47L131.11 133.34L132.68 134.21L134.25 135.1L135.82 135.98L137.39 136.85L138.96 137.71L140.53 138.55L142.1 139.37L143.67 140.18L145.24 140.96L146.81 141.74L148.37 142.51L149.94 143.26L151.51 144.01L153.08 144.74L154.65 145.47L156.22 146.19L157.79 146.9L159.36 147.6L160.93 148.3L162.5 148.99L164.07 149.68L165.64 150.37L167.2 151.06L168.77 151.76L170.34 152.47L171.91 153.19L173.48 153.93L175.05 154.67L176.62 155.43L178.19 156.21L179.76 157L181.33 157.8L182.9 158.62L184.47 159.46L186.03 160.33L187.6 161.22L189.17 162.15L190.74 163.12L192.31 164.13L193.88 165.19L195.45 166.28L197.02 167.41L198.59 168.57L200.16 169.75L201.73 170.97L203.3 172.21L204.86 173.49L206.43 174.81L208 176.17L209.57 177.58L211.14 179.04L212.71 180.56L214.28 182.13L215.85 183.76L217.42 185.44L218.99 187.18L220.56 188.98L222.13 190.81L223.69 192.65L225.26 194.48L226.83 196.28L228.4 198.06L229.97 199.88L231.54 201.78L233.11 203.8L234.68 205.95L236.25 208.17L237.82 210.42L239.39 212.66L240.96 214.85L242.53 216.97L244.09 219.01L245.66 220.99L247.23 222.93L248.8 224.84L250.37 226.72L251.94 228.55L253.51 230.33L255.08 232L256.65 233.52L258.22 234.87L259.79 236.02L261.36 236.96L262.92 237.68L264.49 238.19L266.06 238.53L267.63 238.72L269.2 238.75L270.77 238.61L272.34 238.26L273.91 237.72L275.48 236.96L277.05 235.95L278.62 234.67L280.19 233.1L281.75 231.29L283.32 229.23L284.89 226.95L286.46 224.49L288.03 221.97L289.6 219.54L291.17 217.31L292.74 215.31L294.31 213.54L295.88 211.97L297.45 210.58L299.02 209.36L300.58 208.31L302.15 207.39L303.72 206.59L305.29 205.9L306.86 205.35L308.43 204.94L310 204.69" stroke="#ff0000" stroke-width="1.3"/>
</g>
<line x1="38" x2="309.5" y1="194.8" y2="194.8" stroke="#333" stroke-width="1.15" stroke-dasharray="1.1 1.74" stroke-dashoffset="0.8"/>
<g clip-path="url(#cr)" fill="none" stroke-linejoin="round">
<path d="M363.7 37.3L378.68 32.1L393.66 33.8L408.64 34.4L423.62 19.3L438.6 11.1L453.58 20.4L468.56 27.5L483.54 25.7L498.52 18.6L513.5 21L528.48 16.2L543.46 11.3L558.43 15.7L573.41 15.7L588.39 25.3L603.37 20.3L618.35 15.3L633.33 16.2" stroke="#ff0000" stroke-width="1.3"/>
<path d="M363.7 40.8L378.68 168.7L393.66 163.6L408.64 126.4L423.62 198.3L438.6 181.5L453.58 117.8L468.56 195.8L483.54 185.6L498.52 173.7L513.5 198.5L528.48 206.3L543.46 140.6L558.43 212.7L573.41 191L588.39 176L603.37 197L618.35 188.4L633.33 190.4" stroke="#0000ff" stroke-width="1.3" stroke-dasharray="4 1.7"/>
<path d="M363.7 204.2L378.68 227.3L393.66 227.1L408.64 227.1L423.62 230.2L438.6 230.8L453.58 231.3L468.56 233.5L483.54 232.4L498.52 233.9L513.5 235L528.48 234.1L543.46 235L558.43 235.4L573.41 234.6L588.39 234.6L603.37 234.6L618.35 231.7L633.33 231.3" stroke="#008000" stroke-width="1.3" stroke-dasharray="6.9 1.7 1.1 1.7"/>
<g fill="#ff0000" stroke="#ff0000" stroke-width="0.7" stroke-linejoin="round">
<g transform="translate(408.64 34.4) rotate(45)"><rect x="-3.85" y="-1.3" width="7.7" height="2.6"/><rect x="-1.3" y="-3.85" width="2.6" height="7.7"/></g>
<g transform="translate(453.58 20.4) rotate(45)"><rect x="-3.85" y="-1.3" width="7.7" height="2.6"/><rect x="-1.3" y="-3.85" width="2.6" height="7.7"/></g>
<g transform="translate(498.52 18.6) rotate(45)"><rect x="-3.85" y="-1.3" width="7.7" height="2.6"/><rect x="-1.3" y="-3.85" width="2.6" height="7.7"/></g>
<g transform="translate(543.46 11.3) rotate(45)"><rect x="-3.85" y="-1.3" width="7.7" height="2.6"/><rect x="-1.3" y="-3.85" width="2.6" height="7.7"/></g>
<g transform="translate(588.39 25.3) rotate(45)"><rect x="-3.85" y="-1.3" width="7.7" height="2.6"/><rect x="-1.3" y="-3.85" width="2.6" height="7.7"/></g>
<g transform="translate(633.33 16.2) rotate(45)"><rect x="-3.85" y="-1.3" width="7.7" height="2.6"/><rect x="-1.3" y="-3.85" width="2.6" height="7.7"/></g>
</g><g fill="#0000ff">
<rect x="389.86" y="159.8" width="7.6" height="7.6"/>
<rect x="434.8" y="177.7" width="7.6" height="7.6"/>
<rect x="479.74" y="181.8" width="7.6" height="7.6"/>
<rect x="524.68" y="202.5" width="7.6" height="7.6"/>
<rect x="569.61" y="187.2" width="7.6" height="7.6"/>
<rect x="614.55" y="184.6" width="7.6" height="7.6"/>
</g><g fill="#008000">
<circle cx="378.68" cy="227.3" r="4.1"/>
<circle cx="423.62" cy="230.2" r="4.1"/>
<circle cx="468.56" cy="233.5" r="4.1"/>
<circle cx="513.5" cy="235" r="4.1"/>
<circle cx="558.43" cy="235.4" r="4.1"/>
<circle cx="603.37" cy="234.6" r="4.1"/>
</g></g>
<rect x="38.4" y="4.7" width="271.1" height="237.3" fill="none" stroke="#505050" stroke-width="1.15"/>
<rect x="364.1" y="4.7" width="271.1" height="237.2" fill="none" stroke="#505050" stroke-width="1.15"/>
<line x1="35.5" x2="38.4" y1="216.9" y2="216.9" stroke="#4a4a4a" stroke-width="0.9"/>
<line x1="35.5" x2="38.4" y1="174.46" y2="174.46" stroke="#4a4a4a" stroke-width="0.9"/>
<line x1="35.5" x2="38.4" y1="132.02" y2="132.02" stroke="#4a4a4a" stroke-width="0.9"/>
<line x1="35.5" x2="38.4" y1="89.58" y2="89.58" stroke="#4a4a4a" stroke-width="0.9"/>
<line x1="35.5" x2="38.4" y1="47.14" y2="47.14" stroke="#4a4a4a" stroke-width="0.9"/>
<line x1="35.5" x2="38.4" y1="4.7" y2="4.7" stroke="#4a4a4a" stroke-width="0.9"/>
<line x1="38.4" x2="38.4" y1="242" y2="244.7" stroke="#4a4a4a" stroke-width="0.9"/>
<line x1="182.5" x2="182.5" y1="242" y2="244.7" stroke="#4a4a4a" stroke-width="0.9"/>
<line x1="81.5" x2="81.5" y1="242" y2="244" stroke="#3a3a3a" stroke-width="0.7"/>
<line x1="106.94" x2="106.94" y1="242" y2="244" stroke="#3a3a3a" stroke-width="0.7"/>
<line x1="125" x2="125" y1="242" y2="244" stroke="#3a3a3a" stroke-width="0.7"/>
<line x1="139" x2="139" y1="242" y2="244" stroke="#3a3a3a" stroke-width="0.7"/>
<line x1="150.44" x2="150.44" y1="242" y2="244" stroke="#3a3a3a" stroke-width="0.7"/>
<line x1="160.12" x2="160.12" y1="242" y2="244" stroke="#3a3a3a" stroke-width="0.7"/>
<line x1="168.5" x2="168.5" y1="242" y2="244" stroke="#3a3a3a" stroke-width="0.7"/>
<line x1="175.89" x2="175.89" y1="242" y2="244" stroke="#3a3a3a" stroke-width="0.7"/>
<line x1="226" x2="226" y1="242" y2="244" stroke="#3a3a3a" stroke-width="0.7"/>
<line x1="251.44" x2="251.44" y1="242" y2="244" stroke="#3a3a3a" stroke-width="0.7"/>
<line x1="269.5" x2="269.5" y1="242" y2="244" stroke="#3a3a3a" stroke-width="0.7"/>
<line x1="283.5" x2="283.5" y1="242" y2="244" stroke="#3a3a3a" stroke-width="0.7"/>
<line x1="294.94" x2="294.94" y1="242" y2="244" stroke="#3a3a3a" stroke-width="0.7"/>
<line x1="304.62" x2="304.62" y1="242" y2="244" stroke="#3a3a3a" stroke-width="0.7"/>
<line x1="361.2" x2="364.1" y1="237.7" y2="237.7" stroke="#4a4a4a" stroke-width="0.9"/>
<line x1="361.2" x2="364.1" y1="210.8" y2="210.8" stroke="#4a4a4a" stroke-width="0.9"/>
<line x1="361.2" x2="364.1" y1="183.9" y2="183.9" stroke="#4a4a4a" stroke-width="0.9"/>
<line x1="361.2" x2="364.1" y1="157" y2="157" stroke="#4a4a4a" stroke-width="0.9"/>
<line x1="361.2" x2="364.1" y1="130.1" y2="130.1" stroke="#4a4a4a" stroke-width="0.9"/>
<line x1="361.2" x2="364.1" y1="103.2" y2="103.2" stroke="#4a4a4a" stroke-width="0.9"/>
<line x1="361.2" x2="364.1" y1="76.3" y2="76.3" stroke="#4a4a4a" stroke-width="0.9"/>
<line x1="361.2" x2="364.1" y1="49.4" y2="49.4" stroke="#4a4a4a" stroke-width="0.9"/>
<line x1="361.2" x2="364.1" y1="22.5" y2="22.5" stroke="#4a4a4a" stroke-width="0.9"/>
<line x1="363.7" x2="363.7" y1="241.9" y2="244.6" stroke="#4a4a4a" stroke-width="0.9"/>
<line x1="407.5" x2="407.5" y1="241.9" y2="244.6" stroke="#4a4a4a" stroke-width="0.9"/>
<line x1="451.3" x2="451.3" y1="241.9" y2="244.6" stroke="#4a4a4a" stroke-width="0.9"/>
<line x1="495.1" x2="495.1" y1="241.9" y2="244.6" stroke="#4a4a4a" stroke-width="0.9"/>
<line x1="538.9" x2="538.9" y1="241.9" y2="244.6" stroke="#4a4a4a" stroke-width="0.9"/>
<line x1="582.7" x2="582.7" y1="241.9" y2="244.6" stroke="#4a4a4a" stroke-width="0.9"/>
<line x1="626.5" x2="626.5" y1="241.9" y2="244.6" stroke="#4a4a4a" stroke-width="0.9"/>
<text transform="translate(33.2 220.9) scale(0.97 1)" font-family="Liberation Serif, serif" font-size="12.6" text-anchor="end" fill="#444" >0.0</text>
<text transform="translate(33.2 178.46) scale(0.97 1)" font-family="Liberation Serif, serif" font-size="12.6" text-anchor="end" fill="#444" >0.2</text>
<text transform="translate(33.2 136.02) scale(0.97 1)" font-family="Liberation Serif, serif" font-size="12.6" text-anchor="end" fill="#444" >0.4</text>
<text transform="translate(33.2 93.58) scale(0.97 1)" font-family="Liberation Serif, serif" font-size="12.6" text-anchor="end" fill="#444" >0.6</text>
<text transform="translate(33.2 51.14) scale(0.97 1)" font-family="Liberation Serif, serif" font-size="12.6" text-anchor="end" fill="#444" >0.8</text>
<text transform="translate(33.2 8.7) scale(0.97 1)" font-family="Liberation Serif, serif" font-size="12.6" text-anchor="end" fill="#444" >1.0</text>
<text transform="translate(358.1 241.8) scale(0.97 1)" font-family="Liberation Serif, serif" font-size="12.6" text-anchor="end" fill="#444" >2</text>
<text transform="translate(358.1 214.9) scale(0.97 1)" font-family="Liberation Serif, serif" font-size="12.6" text-anchor="end" fill="#444" >4</text>
<text transform="translate(358.1 188) scale(0.97 1)" font-family="Liberation Serif, serif" font-size="12.6" text-anchor="end" fill="#444" >6</text>
<text transform="translate(358.1 161.1) scale(0.97 1)" font-family="Liberation Serif, serif" font-size="12.6" text-anchor="end" fill="#444" >8</text>
<text transform="translate(358.1 134.2) scale(0.97 1)" font-family="Liberation Serif, serif" font-size="12.6" text-anchor="end" fill="#444" >10</text>
<text transform="translate(358.1 107.3) scale(0.97 1)" font-family="Liberation Serif, serif" font-size="12.6" text-anchor="end" fill="#444" >12</text>
<text transform="translate(358.1 80.4) scale(0.97 1)" font-family="Liberation Serif, serif" font-size="12.6" text-anchor="end" fill="#444" >14</text>
<text transform="translate(358.1 53.5) scale(0.97 1)" font-family="Liberation Serif, serif" font-size="12.6" text-anchor="end" fill="#444" >16</text>
<text transform="translate(358.1 26.6) scale(0.97 1)" font-family="Liberation Serif, serif" font-size="12.6" text-anchor="end" fill="#444" >18</text>
<text transform="translate(363.2 255.6) scale(0.91 1)" font-family="Liberation Serif, serif" font-size="12.6" text-anchor="middle" fill="#444" >0</text>
<text transform="translate(407 255.6) scale(0.91 1)" font-family="Liberation Serif, serif" font-size="12.6" text-anchor="middle" fill="#444" >50</text>
<text transform="translate(450.8 255.6) scale(0.91 1)" font-family="Liberation Serif, serif" font-size="12.6" text-anchor="middle" fill="#444" >100</text>
<text transform="translate(494.6 255.6) scale(0.91 1)" font-family="Liberation Serif, serif" font-size="12.6" text-anchor="middle" fill="#444" >150</text>
<text transform="translate(538.4 255.6) scale(0.91 1)" font-family="Liberation Serif, serif" font-size="12.6" text-anchor="middle" fill="#444" >200</text>
<text transform="translate(582.2 255.6) scale(0.91 1)" font-family="Liberation Serif, serif" font-size="12.6" text-anchor="middle" fill="#444" >250</text>
<text transform="translate(626 255.6) scale(0.91 1)" font-family="Liberation Serif, serif" font-size="12.6" text-anchor="middle" fill="#444" >300</text>
<text transform="translate(37.4 255.6) scale(0.85 1)" font-family="Liberation Serif, serif" font-size="12" text-anchor="middle" fill="#444" >10<tspan dx="1.5" dy="-4.5" font-size="8.4">0</tspan></text>
<text transform="translate(181.9 255.6) scale(0.85 1)" font-family="Liberation Serif, serif" font-size="12" text-anchor="middle" fill="#444" >10<tspan dx="1.5" dy="-4.5" font-size="8.4">1</tspan></text>
<text transform="translate(153.6 271.2) scale(1 1)" font-family="Liberation Serif, serif" font-size="14.5" text-anchor="start" fill="#333" font-style="italic">ℓ</text>
<path d="M160.6 274.3L164.2 261.2" stroke="#333" stroke-width="0.85" fill="none"/>
<text transform="translate(167 271.2) scale(1 1)" font-family="Liberation Serif, serif" font-size="14.5" text-anchor="start" fill="#333" font-style="italic">l</text>
<text transform="translate(170.4 273.2) scale(1 1)" font-family="Liberation Serif, serif" font-size="10.5" text-anchor="start" fill="#333" font-style="italic">d</text>
<path d="M176.9 268.5H183.5M180.2 264.8V272.2" stroke="#333" stroke-width="0.85" fill="none"/>
<text transform="translate(185.6 271.2) scale(1 1)" font-family="Liberation Serif, serif" font-size="14.5" text-anchor="start" fill="#333" >1</text>
<text transform="translate(472 271.4) scale(0.88 1)" font-family="Liberation Serif, serif" font-size="16.6" text-anchor="start" fill="#333" >Time [<tspan font-style="italic">τ</tspan><tspan font-style="italic" font-size="11.5" dy="2.6">p</tspan><tspan dy="-2.6">]</tspan></text>
<g fill="none" stroke="#333">
<path d="M1.6 140.7H11.2" stroke-width="1.15"/>
<path d="M1.9 135.2V141.6" stroke-width="0.9"/>
<path d="M11.4 139.2V142.4M1.5 135.6H3.4" stroke-width="0.7"/>
<path d="M6.6 126.6V133.7L13.4 130.1Z" stroke-width="0.9" stroke-linejoin="miter"/>
<path d="M15.6 120.2V124.6M11.9 122.4H15.6" stroke-width="0.75"/>
<path d="M15.1 105.6V109.4M11.4 107.5H15.1" stroke-width="0.75"/>
</g>
<circle cx="10.9" cy="118.5" r="0.65" fill="#333"/>
<text transform="translate(13.3 116.2) rotate(-90)" font-family="Liberation Serif, serif" font-size="9.6" font-weight="bold" fill="#333">u</text>
<g transform="translate(342.6 136.2) rotate(-90)" font-family="Liberation Serif, serif" fill="#333" font-style="italic">
<text x="-0.3" y="0" font-size="15.5">ℓ</text>
<text x="5.6" y="0.5" font-size="10.5">c</text>
<path d="M10.2 1.6L16.7 -13" stroke="#333" stroke-width="0.85" fill="none"/>
<text x="17.5" y="0" font-size="15.5">l</text>
<text x="21.3" y="0.5" font-size="10.5">d</text>
</g>
<text transform="translate(62.7 18.2) scale(0.95 1)" font-family="Liberation Serif, serif" font-size="15.8" text-anchor="start" fill="#333" >(a)</text>
<text transform="translate(387.6 18.6) scale(1 1)" font-family="Liberation Serif, serif" font-size="15.8" text-anchor="start" fill="#333" >(b)</text>
<rect x="234.8" y="11.6" width="67.4" height="57.4" rx="2.5" fill="#fff" fill-opacity="0.8" stroke="#d8d8d8" stroke-width="0.9"/>
<line x1="239" x2="265.4" y1="20.8" y2="20.8" stroke="#ff0000" stroke-width="1.7" stroke-opacity="0.78"/>
<line x1="239.2" x2="265.4" y1="38.8" y2="38.8" stroke="#0000ff" stroke-width="1.6" stroke-opacity="0.75" stroke-dasharray="4.6 1.5"/>
<line x1="239.2" x2="265.4" y1="57.2" y2="57.2" stroke="#008000" stroke-width="1.6" stroke-opacity="0.85" stroke-dasharray="7.2 1.8 1.1 1.7"/>
<text transform="translate(275.6 24.3) scale(0.85 1)" font-family="Liberation Serif, serif" font-size="13.6" text-anchor="start" fill="#333" >NL1</text>
<text transform="translate(275.6 43.1) scale(0.85 1)" font-family="Liberation Serif, serif" font-size="13.6" text-anchor="start" fill="#333" >L</text>
<text transform="translate(275.6 61.6) scale(0.85 1)" font-family="Liberation Serif, serif" font-size="13.6" text-anchor="start" fill="#333" >LR</text>
<rect x="560.5" y="94.4" width="68" height="57.2" rx="2.5" fill="#fff" fill-opacity="0.8" stroke="#d8d8d8" stroke-width="0.9"/>
<line x1="565" x2="591.2" y1="103.6" y2="103.6" stroke="#ff0000" stroke-width="1.3"/>
<g fill="#ff0000" stroke="#ff0000" stroke-width="0.7" stroke-linejoin="round"><g transform="translate(578.2 103.6) rotate(45)"><rect x="-3.85" y="-1.3" width="7.7" height="2.6"/><rect x="-1.3" y="-3.85" width="2.6" height="7.7"/></g></g>
<line x1="565" x2="591.2" y1="122.6" y2="122.6" stroke="#0000ff" stroke-width="1.3" stroke-dasharray="4 1.7"/>
<rect x="574.4" y="118.8" width="7.6" height="7.6" fill="#0000ff"/>
<line x1="565" x2="591.2" y1="140.2" y2="140.2" stroke="#008000" stroke-width="1.3" stroke-dasharray="6.9 1.7 1.1 1.7"/>
<circle cx="578.2" cy="140.2" r="4.1" fill="#008000"/>
<text transform="translate(601 108.8) scale(0.85 1)" font-family="Liberation Serif, serif" font-size="13.6" text-anchor="start" fill="#333" >NL1</text>
<text transform="translate(601 128) scale(0.85 1)" font-family="Liberation Serif, serif" font-size="13.6" text-anchor="start" fill="#333" >L</text>
<text transform="translate(601 145.1) scale(0.85 1)" font-family="Liberation Serif, serif" font-size="13.6" text-anchor="start" fill="#333" >LR</text>
</svg>
</body></html>
